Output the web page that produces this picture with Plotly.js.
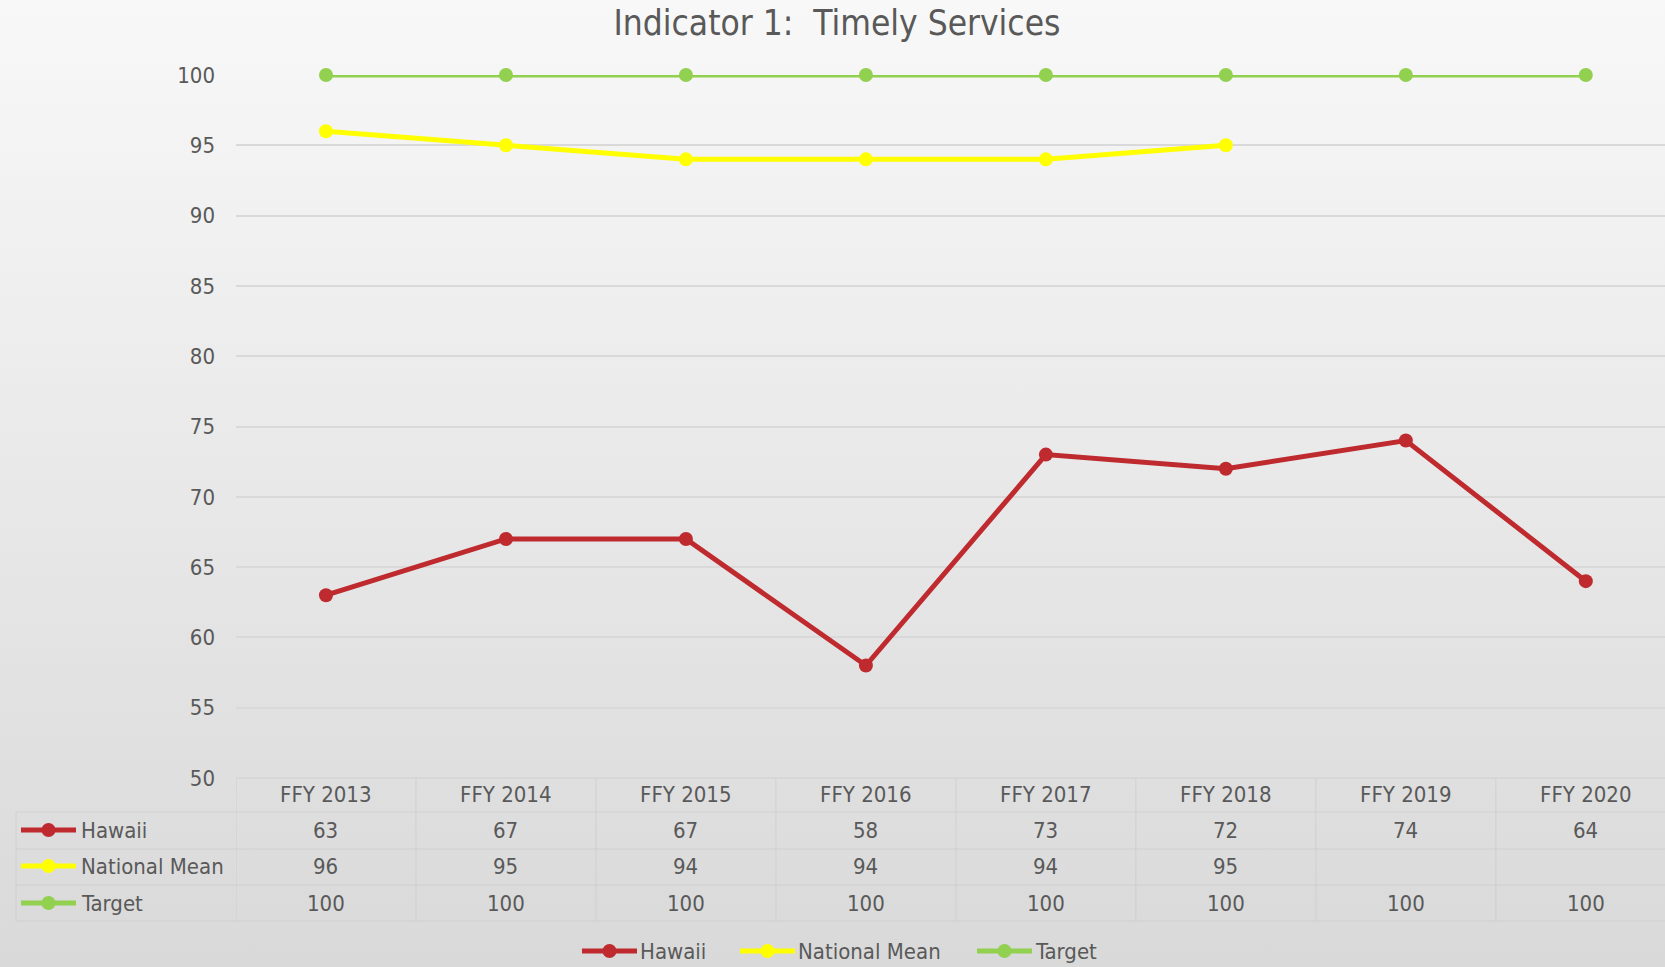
<!DOCTYPE html>
<html>
<head>
<meta charset="utf-8">
<script src="https://cdn.plot.ly/plotly-3.0.1.min.js"></script>
<style>
html,body{margin:0;padding:0;}
body{background:linear-gradient(to bottom,#f8f8f8 0%,#d9d9d9 100%);width:1665px;height:967px;overflow:hidden;}
#chart{width:1665px;height:967px;}
</style>
</head>
<body>
<div id="chart"></div>
<script>
const categories = ["FFY 2013","FFY 2014","FFY 2015","FFY 2016","FFY 2017","FFY 2018","FFY 2019","FFY 2020"];
const hawaii = [63,67,67,58,73,72,74,64];
const nationalMean = [96,95,94,94,94,95,null,null];
const target = [100,100,100,100,100,100,100,100];
const seriesNames = ["Hawaii","National Mean","Target"];
const seriesColors = ["#BE2A2E","#FFFF00","#92D050"];
const yTicks = [50,55,60,65,70,75,80,85,90,95,100];

const W = 1665, H = 967;
const FONT = '"Liberation Sans Narrow","DejaVu Sans Condensed","Liberation Sans",sans-serif';
const TXT = '#595959';
const px = v => v / W;
const py = v => 1 - v / H;

const allSeries = [hawaii, nationalMean, target];
const traces = allSeries.map((vals, i) => ({
  type: 'scatter', mode: 'lines+markers',
  x: categories, y: vals, name: seriesNames[i],
  line: {color: seriesColors[i], width: 5},
  marker: {color: seriesColors[i], size: 14},
  cliponaxis: false, connectgaps: false, showlegend: false
}));

const annotations = [];
const shapes = [];
function legendKey(x0, yc, color) {
  shapes.push({type: 'line', xref: 'paper', yref: 'paper', x0: px(x0), x1: px(x0 + 55), y0: py(yc), y1: py(yc),
    line: {color: color, width: 5}});
  shapes.push({type: 'circle', xref: 'paper', yref: 'paper', x0: px(x0 + 20.5), x1: px(x0 + 34.5), y0: py(yc - 7), y1: py(yc + 7),
    fillcolor: color, line: {width: 0}});
}
// header row
categories.forEach(c => annotations.push({x: c, xref: 'x', y: py(794), yref: 'paper', text: c, showarrow: false,
  font: {family: FONT, size: 22, color: TXT}, xanchor: 'center', yanchor: 'middle'}));
const rowY = [830, 866, 903];
allSeries.forEach((vals, r) => {
  vals.forEach((v, k) => {
    if (v === null) return;
    annotations.push({x: categories[k], xref: 'x', y: py(rowY[r]), yref: 'paper', text: String(v), showarrow: false,
      font: {family: FONT, size: 22, color: TXT}, xanchor: 'center', yanchor: 'middle'});
  });
  annotations.push({x: px(79), xref: 'paper', y: py(rowY[r]), yref: 'paper', text: seriesNames[r], showarrow: false,
    font: {family: FONT, size: 22, color: TXT}, xanchor: 'left', yanchor: 'middle'});
  legendKey(21, rowY[r], seriesColors[r]);
});
// bottom legend
const legX = [582, 740, 977];
const legY = 951;
seriesNames.forEach((n, i) => {
  legendKey(legX[i], legY, seriesColors[i]);
  annotations.push({x: px(legX[i] + 56), xref: 'paper', y: py(legY), yref: 'paper', text: n, showarrow: false,
    font: {family: FONT, size: 22, color: TXT}, xanchor: 'left', yanchor: 'middle'});
});
// table grid
const gridC = 'rgba(200,200,200,0.6)';
shapes.push({type: 'line', xref: 'paper', yref: 'paper', x0: px(236), x1: 1, y0: py(778), y1: py(778), line: {color: gridC, width: 1}});
[812, 849, 885, 921].forEach(y => shapes.push({type: 'line', xref: 'paper', yref: 'paper', x0: px(16), x1: 1, y0: py(y), y1: py(y), line: {color: gridC, width: 1}}));
for (let k = 0; k <= categories.length; k++) {
  shapes.push({type: 'line', xref: 'x', yref: 'paper', x0: k - 0.5, x1: k - 0.5, y0: py(778), y1: py(921), line: {color: gridC, width: 1}});
}
shapes.push({type: 'line', xref: 'paper', yref: 'paper', x0: px(16), x1: px(16), y0: py(812), y1: py(921), line: {color: gridC, width: 1}});

const layout = {
  width: W, height: H,
  paper_bgcolor: 'rgba(0,0,0,0)', plot_bgcolor: 'rgba(0,0,0,0)',
  margin: {l: 0, r: 0, t: 0, b: 0},
  title: {text: 'Indicator 1:&nbsp; Timely Services', x: 837 / W, xanchor: 'center', y: py(23), yanchor: 'middle',
    font: {family: FONT, size: 35, color: TXT}},
  xaxis: {domain: [px(236), 1], range: [-0.5, 7.44], type: 'category', showticklabels: false, showgrid: false,
    zeroline: false, showline: false, ticks: ''},
  yaxis: {domain: [py(778), py(75)], range: [50, 100], tickvals: yTicks, showgrid: true, gridcolor: '#d9d9d9', gridwidth: 2,
    zeroline: false, showline: false, ticks: '', ticklabelstandoff: 20,
    tickfont: {family: FONT, size: 22, color: TXT}},
  showlegend: false,
  annotations: annotations, shapes: shapes
};
Plotly.newPlot('chart', traces, layout, {displayModeBar: false, staticPlot: true});
</script>
</body>
</html>
